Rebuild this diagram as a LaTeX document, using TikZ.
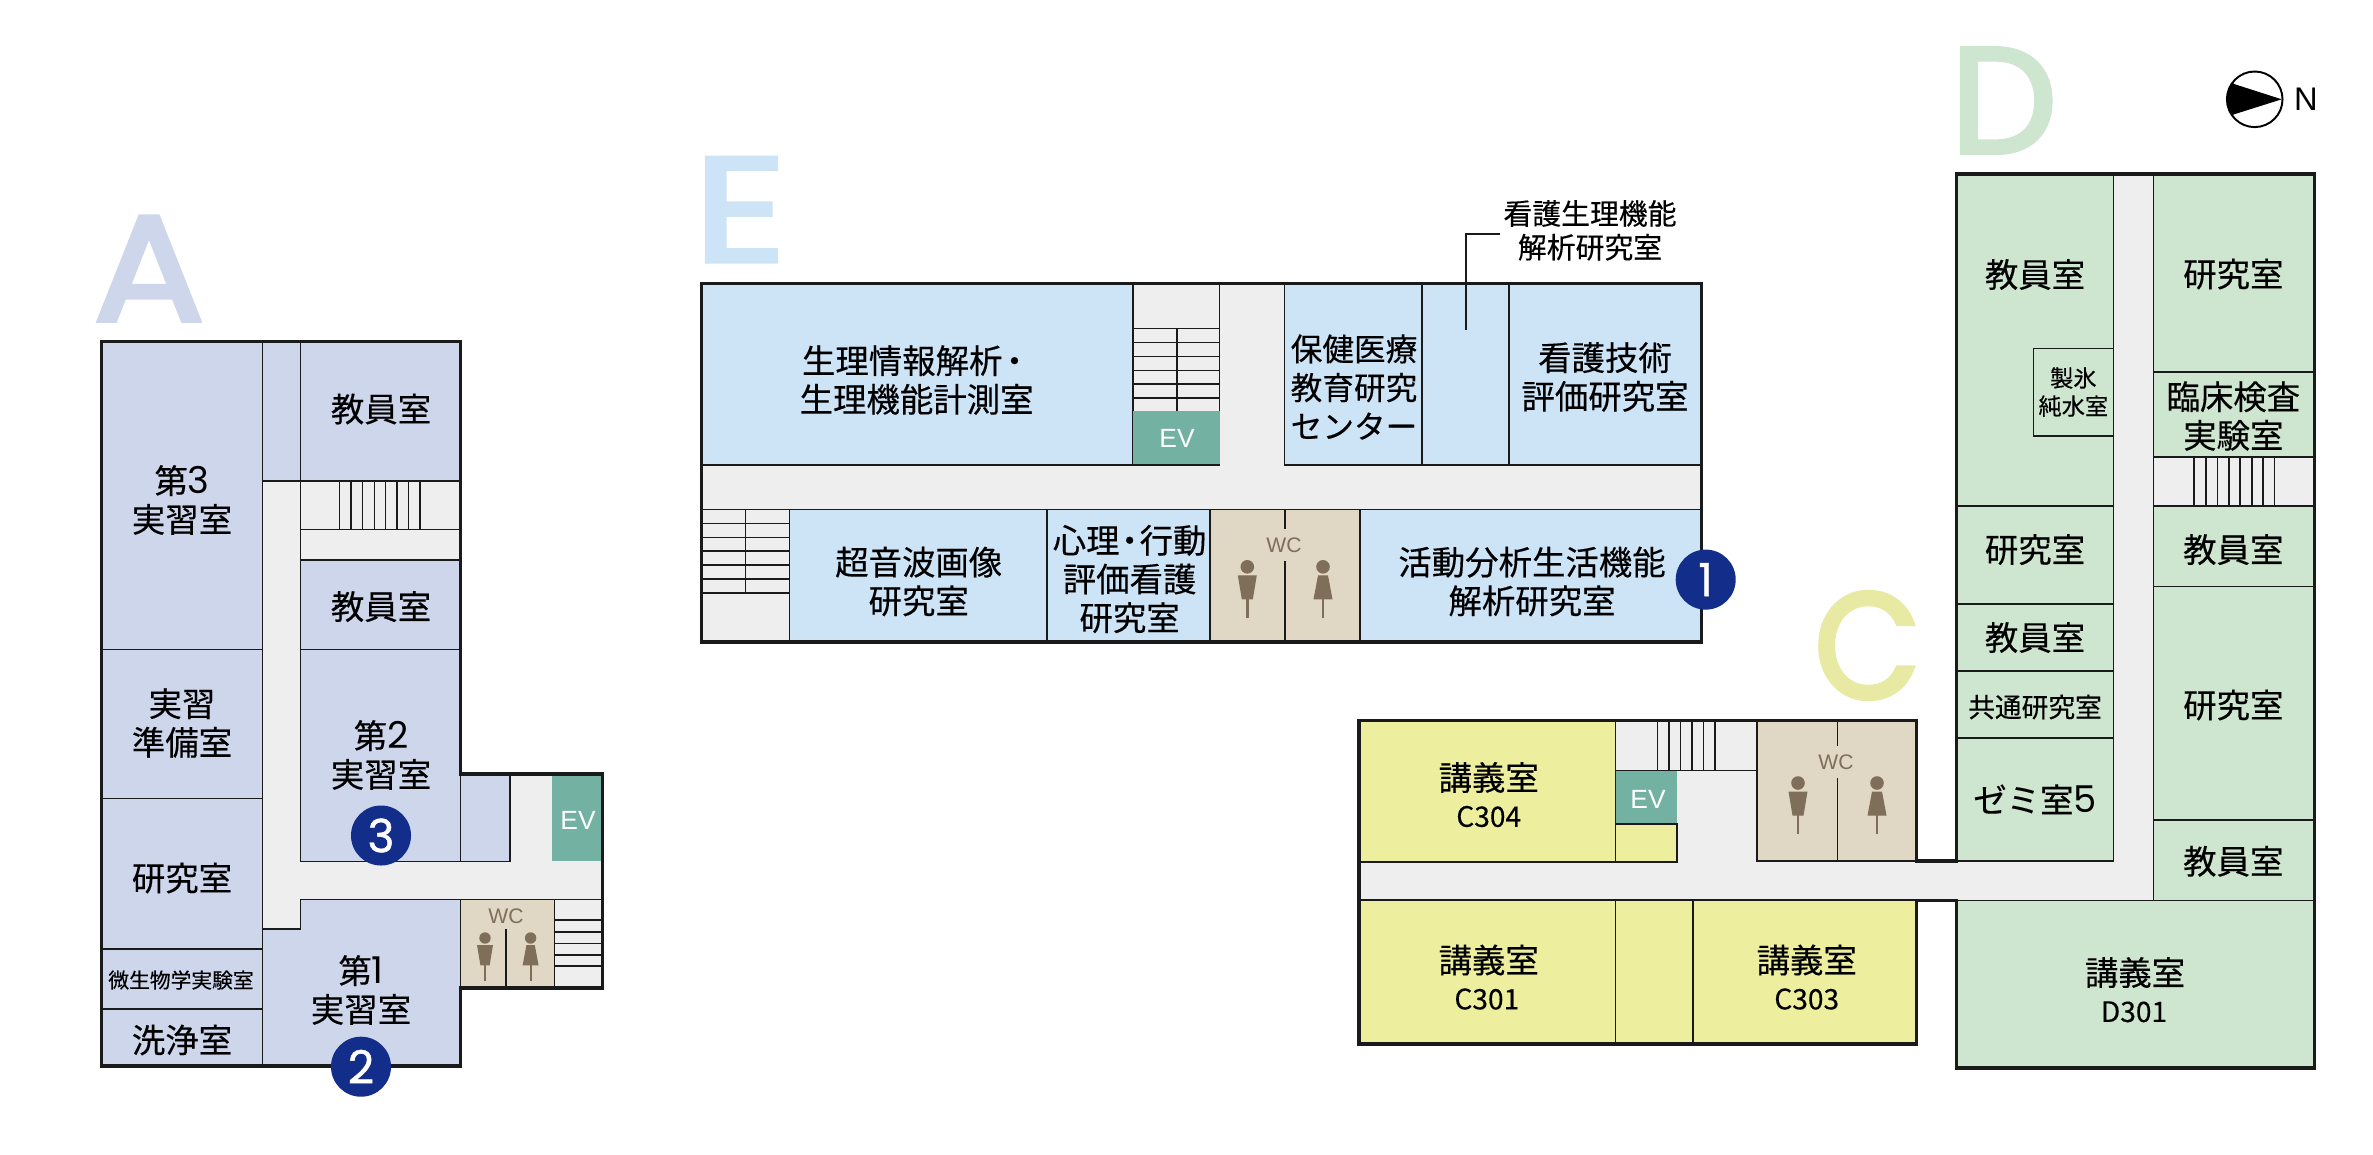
\documentclass[tikz,border=0pt]{standalone}
\usepackage{fontspec}
\setmainfont[FakeBold=0.3]{Noto Sans CJK JP}
\newfontfamily\letterfont[FakeBold=3]{Poppins}
\newfontfamily\numfont[FakeBold=1]{Poppins}
\newfontfamily\digfont{Poppins}
\newfontfamily\latinfont{Liberation Sans}
\newcommand{\Dg}[1]{{\digfont\fontsize{10.5}{11}\selectfont #1}}
\definecolor{cA}{HTML}{CED6EC}
\definecolor{cE}{HTML}{CDE3F6}
\definecolor{cC}{HTML}{EEEF9E}
\definecolor{cD}{HTML}{CEE5CF}
\definecolor{lC}{HTML}{E8E9A2}
\definecolor{hall}{HTML}{EEEEEE}
\definecolor{evc}{HTML}{73B2A3}
\definecolor{wcc}{HTML}{E0D8C4}
\definecolor{fig}{HTML}{7F6F5A}
\definecolor{navy}{HTML}{132E8A}
\definecolor{ink}{HTML}{1A1A1A}
\tikzset{
  x=0.01cm,y=-0.01cm,
  wall/.style={line width=1pt,draw=ink,line join=miter},
  thin wall/.style={line width=0.45pt,draw=ink},
  lbl/.style={font=\fontsize{9.5}{11}\selectfont,align=center,text=black,inner sep=0pt},
  code/.style={font=\fontsize{8}{11}\selectfont,text=black,inner sep=0pt},
  evlbl/.style={font=\latinfont\fontsize{7.5}{10}\selectfont,text=white,inner sep=0pt},
  wclbl/.style={font=\latinfont\fontsize{6}{8}\selectfont,text=fig,inner sep=0pt},
  bignum/.style={circle,fill=navy,text=white,minimum size=60*0.2845pt,inner sep=0pt,font=\numfont\fontsize{13}{13}\selectfont},
  bigletter/.style={font=\letterfont\fontsize{44}{44}\selectfont,inner sep=0pt},
}
\newcommand{\Rm}[5]{\path[fill=#5,thin wall] (#1,#2) rectangle (#3,#4);}
\newcommand{\Ln}[4]{\draw[thin wall] (#1,#2) -- (#3,#4);}
\newcommand{\MaleFig}[3]{\begin{scope}[shift={(#1,#2)},scale=#3]
  \fill[fig] (0,0) circle (6.8);
  \fill[fig] (-9.5,8.5) -- (9.5,8.5) -- (5.5,32.5) -- (-5.5,32.5) -- cycle;
  \fill[fig] (-1.3,32) rectangle (1.3,51);
\end{scope}}
\newcommand{\FemaleFig}[3]{\begin{scope}[shift={(#1,#2)},scale=#3]
  \fill[fig] (0,0) circle (6.8);
  \fill[fig] (-5,8.5) -- (5,8.5) -- (9.5,32.5) -- (-9.5,32.5) -- cycle;
  \fill[fig] (-1.3,32) rectangle (1.3,51);
\end{scope}}
\begin{document}
\begin{tikzpicture}
\useasboundingbox (0,0) rectangle (2373,1154);
% Letters
\node[bigletter,text=cA,xscale=1.06,yscale=0.97] (letA) at (149,268.6) {A};
\node[bigletter,text=cE,xscale=1.17,yscale=0.96] (letE) at (740,209.6) {E};
\node[bigletter,text=lC,xscale=0.89,yscale=0.97] (letC) at (1867.5,645.5) {C};
\node[bigletter,text=cD,xscale=0.97,yscale=0.97] (letD) at (2003.7,100.6) {D};

% ===== Building A =====
\fill[hall] (101.4,341.4) -- (460.7,341.4) -- (460.7,773.9) -- (602.7,773.9) -- (602.7,988) -- (460.7,988) -- (460.7,1066) -- (101.4,1066) -- cycle;
\Rm{101.4}{341.4}{262.4}{649.5}{cA}
\Rm{101.4}{649.5}{262.4}{798.5}{cA}
\Rm{101.4}{798.5}{262.4}{948.8}{cA}
\Rm{101.4}{948.8}{262.4}{1009.2}{cA}
\Rm{101.4}{1009.2}{262.4}{1066}{cA}
\Rm{262.4}{341.4}{300.5}{481}{cA}
\Rm{300.5}{341.4}{460.7}{481}{cA}
\Rm{300.5}{559.7}{460.7}{649.5}{cA}
\Rm{300.5}{649.5}{460.7}{861.3}{cA}
\Rm{460.7}{773.9}{510.2}{861.3}{cA}
\path[fill=cA,thin wall] (300.5,899.5) -- (460.7,899.5) -- (460.7,1066) -- (262.4,1066) -- (262.4,928.8) -- (300.5,928.8) -- cycle;
\Ln{300.5}{481}{300.5}{559.7}
\Ln{300.5}{529.5}{460.7}{529.5}
\foreach \t in {339.7,351,362.7,374.3,385.7,397,408.3,420} {\Ln{\t}{481}{\t}{529.5}}
\path[fill=evc] (552,773.9) rectangle (602.7,861.3);
\Rm{460.7}{899.5}{554.6}{988}{wcc}
\Ln{506.2}{929.3}{506.2}{988}
\Ln{554.6}{899.5}{602.7}{899.5}
\Ln{554.6}{899.5}{554.6}{988}
\foreach \t in {920,931.7,943.3,955,966} {\Ln{554.6}{\t}{602.7}{\t}}
\MaleFig{485}{938}{0.84}
\FemaleFig{530.6}{938}{0.84}
\draw[wall] (101.4,341.4) -- (460.7,341.4) -- (460.7,773.9) -- (602.7,773.9) -- (602.7,988) -- (460.7,988) -- (460.7,1066) -- (101.4,1066) -- cycle;
\node[lbl] (a1) at (182,500) {第\Dg{3}\\実習室};
\node[lbl] (a2) at (182,723) {実習\\準備室};
\node[lbl] (a3) at (182,878) {研究室};
\node[lbl,font=\fontsize{5.9}{8}\selectfont] (a4) at (181,980) {微生物学実験室};
\node[lbl] (a5) at (182,1040) {洗浄室};
\node[lbl] (a6) at (381,409) {教員室};
\node[lbl] (a7) at (381,606.6) {教員室};
\node[lbl] (a8) at (381,755) {第\Dg{2}\\実習室};
\node[lbl] (a9) at (361,990) {第\Dg{1}\\実習室};
\node[evlbl] (aev) at (578,820) {EV};
\node[wclbl] (awc) at (506,916.5) {WC};
\node[bignum] (n3) at (381,835.5) {3};
\node[bignum] (n2) at (361,1066.7) {2};

% ===== Building E =====
\fill[hall] (701.6,283.5) rectangle (1701.6,642);
\Rm{701.6}{283.5}{1133}{465}{cE}
\foreach \t in {328.4,342.3,356.5,370.4,384.2,398,411.3} {\Ln{1133}{\t}{1219.6}{\t}}
\Ln{1133}{283.5}{1133}{411.3}
\Ln{1219.6}{283.5}{1219.6}{411.3}
\Ln{1177}{328.4}{1177}{411.3}
\path[fill=evc] (1133,411.3) rectangle (1219.6,465);
\Ln{1133}{465}{1219.6}{465}
\Rm{1284.5}{283.5}{1421.7}{465}{cE}
\Rm{1421.7}{283.5}{1509}{465}{cE}
\Rm{1509}{283.5}{1701.6}{465}{cE}
\Ln{701.6}{509.6}{789.5}{509.6}
\foreach \t in {523.5,537.4,551.2,565,579,592.8} {\Ln{701.6}{\t}{789.5}{\t}}
\Ln{745.6}{509.6}{745.6}{592.8}
\Rm{789.5}{509.6}{1047}{642}{cE}
\Rm{1047}{509.6}{1210}{642}{cE}
\Rm{1210}{509.6}{1360}{642}{wcc}
\Rm{1360}{509.6}{1701.6}{642}{cE}
\Ln{1285}{509.6}{1285}{529}
\Ln{1285}{561}{1285}{642}
\MaleFig{1247.3}{566.8}{1}
\FemaleFig{1323}{566.8}{1}
\draw[wall] (701.6,283.5) rectangle (1701.6,642);
\node[lbl,font=\fontsize{8.2}{9.6}\selectfont] (e0) at (1590,230.4) {看護生理機能\\解析研究室};
\coordinate (lead0) at (1465.7,329.5);
\coordinate (lead1) at (1465.7,233.8);
\coordinate (lead2) at (1500,233.8);
\draw[line width=0.45pt,draw=ink] (lead0) -- (lead1) -- (lead2);
\node[lbl] (e1) at (916.6,380) {生理情報解析\hspace{-0.14em}・\hspace{-0.39em}\\生理機能計測室};
\node[evlbl] (eev) at (1177,438.6) {EV};
\node[lbl,font=\fontsize{9}{11}\selectfont] (e2) at (1354,387) {保健医療\\教育研究\\センター};
\node[lbl] (e3) at (1605,377) {看護技術\\評価研究室};
\node[lbl] (e4) at (918.7,581.5) {超音波画像\\研究室};
\node[lbl] (e5) at (1129.6,579) {心理\hspace{-0.2em}・\hspace{-0.2em}行動\\評価看護\\研究室};
\node[wclbl] (ewc) at (1284,545) {WC};
\node[lbl] (e6) at (1532,581.5) {活動分析生活機能\\解析研究室};
\node[bignum] (n1) at (1705.7,579.6) {1};

% ===== Buildings C and D =====
\fill[hall] (1359,720.5) rectangle (1916.5,1043.8);
\fill[hall] (1916.5,861) rectangle (1956.7,900.5);
\fill[hall] (1956.7,174) rectangle (2314.3,1068);
\Rm{1359}{720.5}{1615.5}{861.7}{cC}
\path[fill=evc] (1615.5,770.4) rectangle (1676.7,823.8);
\Rm{1615.5}{823.8}{1676.7}{861.7}{cC}
\Ln{1615.5}{770.4}{1757}{770.4}
\foreach \t in {1657.6,1669,1680.6,1692,1703.5,1715} {\Ln{\t}{720.5}{\t}{770.4}}
\Rm{1757}{720.5}{1916.5}{861}{wcc}
\Ln{1837.5}{720.5}{1837.5}{746}
\Ln{1837.5}{777.6}{1837.5}{861}
\MaleFig{1798}{783}{1}
\FemaleFig{1877}{783}{1}
\Rm{1359}{900.2}{1615.5}{1043.8}{cC}
\Rm{1615.5}{900.2}{1692.7}{1043.8}{cC}
\Rm{1692.7}{900.2}{1916.5}{1043.8}{cC}
% D left column
\Rm{1956.7}{174}{2113.3}{506}{cD}
\Rm{2033.3}{348.5}{2113.3}{436.2}{cD}
\Rm{1956.7}{506}{2113.3}{604}{cD}
\Rm{1956.7}{604}{2113.3}{671}{cD}
\Rm{1956.7}{671}{2113.3}{738}{cD}
\Rm{1956.7}{738}{2113.3}{861}{cD}
% D right column
\Rm{2153.3}{174}{2314.3}{371.8}{cD}
\Rm{2153.3}{371.8}{2314.3}{457}{cD}
\Rm{2153.3}{457}{2314.3}{506}{hall}
\foreach \t in {2194,2205.7,2217.3,2228.7,2240,2251.7,2263,2274.3} {\Ln{\t}{457}{\t}{506}}
\Rm{2153.3}{506}{2314.3}{586.4}{cD}
\Rm{2153.3}{586.4}{2314.3}{820}{cD}
\Rm{2153.3}{820}{2314.3}{900.5}{cD}
\Rm{1956.7}{900.5}{2314.3}{1068}{cD}
\draw[wall] (1916.5,861) -- (1956.7,861) -- (1956.7,174) -- (2314.3,174) -- (2314.3,1068) -- (1956.7,1068) -- (1956.7,900.5) -- (1916.5,900.5) -- (1916.5,1043.8) -- (1359,1043.8) -- (1359,720.5) -- (1916.5,720.5) -- cycle;
\node[lbl] (c1) at (1488.7,777.4) {講義室};
\node[code] (c1b) at (1488.7,816.5) {C304};
\node[lbl] (c2) at (1488.7,960) {講義室};
\node[code] (c2b) at (1486.8,999) {C301};
\node[lbl] (c3) at (1806.7,960) {講義室};
\node[code] (c3b) at (1806.7,999) {C303};
\node[evlbl] (cev) at (1648,799) {EV};
\node[wclbl] (cwc) at (1836,762) {WC};
\node[lbl] (d1) at (2035,274.5) {教員室};
\node[lbl] (d2) at (2233.3,274) {研究室};
\node[lbl,font=\fontsize{6.6}{8}\selectfont] (d3) at (2073.3,392) {製氷\\純水室};
\node[lbl] (d4) at (2233.3,416) {臨床検査\\実験室};
\node[lbl] (d5) at (2035,549.6) {研究室};
\node[lbl] (d6) at (2233.3,549.6) {教員室};
\node[lbl] (d7) at (2035,637.5) {教員室};
\node[lbl,font=\fontsize{7.6}{9}\selectfont] (d8) at (2035,707) {共通研究室};
\node[lbl] (d9) at (2035,799.3) {ゼミ室\Dg{5}};
\node[lbl] (d10) at (2233.3,705) {研究室};
\node[lbl] (d11) at (2233.3,861.3) {教員室};
\node[lbl] (d12) at (2135,972.5) {講義室};
\node[code] (d12b) at (2134,1011.8) {D301};

% Compass
\coordinate (cmp) at (2254.7,99.3);
\draw[line width=0.55pt,draw=black,fill=white] (cmp) circle (27.8);
\begin{scope}
\clip (cmp) circle (27.8);
\fill[black] (2220,70) -- (2234,84) -- (2281.7,99.3) -- (2233.5,114.5) -- (2220,130) -- cycle;
\end{scope}
\node[font=\latinfont\fontsize{9.3}{10}\selectfont,inner sep=0pt] (north) at (2306,99.3) {N};
\end{tikzpicture}
\end{document}
